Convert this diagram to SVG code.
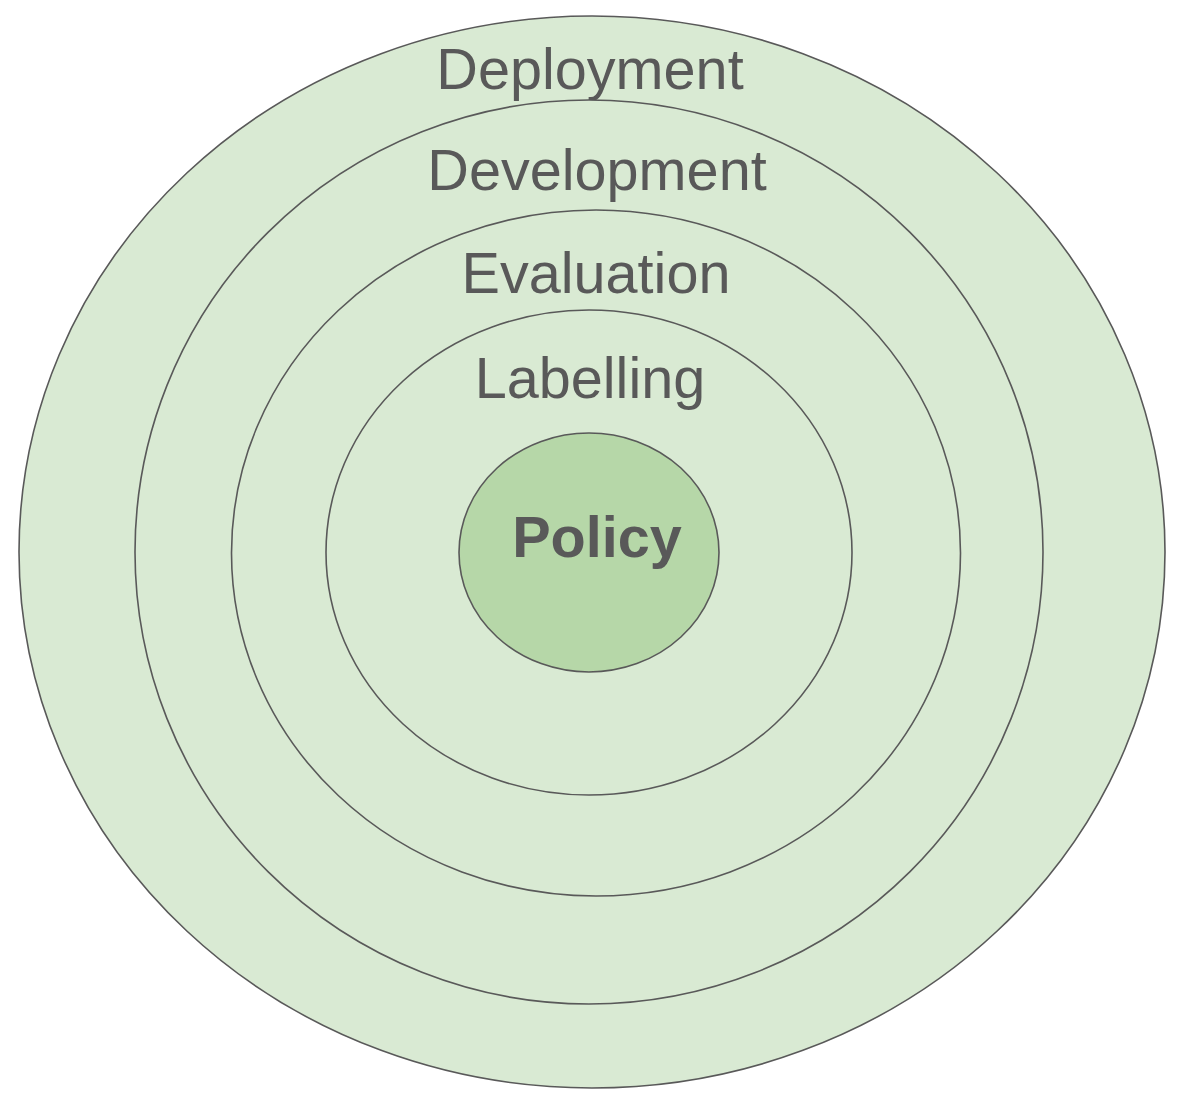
<svg xmlns="http://www.w3.org/2000/svg" width="1202" height="1104" viewBox="0 0 1202 1104">
<style>
.ring{fill:#d9ead3;stroke:#595959;stroke-width:1.6}
.core{fill:#b6d7a8;stroke:#595959;stroke-width:1.6}
.lbl{font-family:"Liberation Sans",Arial,sans-serif;font-size:57.6px;fill:#595959;text-anchor:middle}
.bold{font-weight:bold}
</style>
<rect width="1202" height="1104" fill="#ffffff"/>
<g id="deployment">
<ellipse class="ring" cx="592" cy="552" rx="573" ry="536"/>
<text class="lbl" x="590" y="89">Deployment</text>
</g>
<g id="development">
<ellipse class="ring" cx="589" cy="552" rx="454" ry="452"/>
<text class="lbl" x="597" y="190">Development</text>
</g>
<g id="evaluation">
<ellipse class="ring" cx="596" cy="553" rx="364.5" ry="343"/>
<text class="lbl" x="596" y="293">Evaluation</text>
</g>
<g id="labelling">
<ellipse class="ring" cx="589" cy="552.5" rx="263" ry="242.5"/>
<text class="lbl" x="590" y="398">Labelling</text>
</g>
<g id="policy">
<ellipse class="core" cx="589" cy="552.5" rx="130" ry="119.5"/>
<text class="lbl bold" x="597" y="557">Policy</text>
</g>
<g id="connectors"/>
</svg>
